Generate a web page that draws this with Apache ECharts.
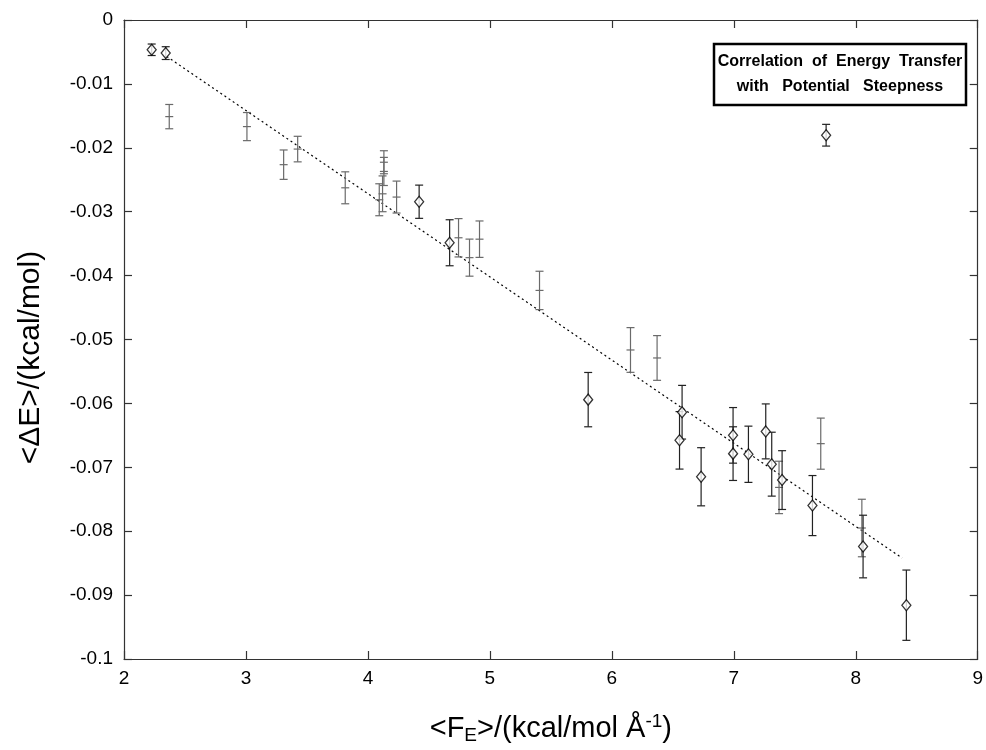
<!DOCTYPE html>
<html>
<head>
<meta charset="utf-8">
<script src="https://cdn.jsdelivr.net/npm/echarts@6/dist/echarts.min.js"></script>
<style>
html,body{margin:0;padding:0;background:#fff;}
#chart{width:986px;height:750px;}
</style>
</head>
<body>
<div id="chart"></div>
<script>
// Points drawn with diamonds (value, error bar half-length)
var diamondX   = [2.227, 2.342, 4.420, 4.670, 5.806, 6.576, 6.555, 6.732, 6.994, 6.994, 7.120, 7.262, 7.311, 7.396, 7.645, 8.060, 8.415, 7.757];
var diamondY   = [-0.00466, -0.00518, -0.02844, -0.03486, -0.05941, -0.06138, -0.06578, -0.07148, -0.06500, -0.06786, -0.06796, -0.06438, -0.06951, -0.07200, -0.07599, -0.08240, -0.09158, -0.01803];
var diamondErr = [0.0009, 0.0010, 0.0026, 0.0036, 0.00425, 0.0042, 0.0045, 0.00455, 0.00435, 0.0042, 0.0044, 0.0043, 0.0050, 0.0046, 0.0047, 0.0049, 0.0055, 0.0017];

// Points drawn as plain error bars (centre cross-bar)
var plainX   = [2.371, 3.008, 3.424, 3.309, 3.814, 4.093, 4.131, 4.131, 4.120, 4.235, 4.743, 4.833, 4.915, 5.407, 6.153, 6.371, 7.371, 7.713, 8.050];
var plainY   = [-0.01512, -0.01668, -0.02020, -0.02264, -0.02626, -0.02813, -0.02226, -0.02370, -0.02720, -0.02771, -0.03408, -0.03719, -0.03430, -0.04232, -0.05164, -0.05289, -0.07315, -0.06630, -0.07950];
var plainErr = [0.0019, 0.0022, 0.0020, 0.0023, 0.0025, 0.0025, 0.0018, 0.0022, 0.0028, 0.0025, 0.0030, 0.0029, 0.00285, 0.0030, 0.0035, 0.0035, 0.0041, 0.0040, 0.0045];

// Fitted line end points
var fitX = [2.35, 8.38];
var fitY = [-0.0057, -0.0842];

// Axis ticks
var xTicks = [2, 3, 4, 5, 6, 7, 8, 9];
var yTickLabels = ['-0.1', '-0.09', '-0.08', '-0.07', '-0.06', '-0.05', '-0.04', '-0.03', '-0.02', '-0.01', '0'];

var legendLines = ['Correlation  of  Energy  Transfer', 'with   Potential   Steepness'];

var FONT = '"Liberation Sans", Arial, Helvetica, sans-serif';

function zip(a, b, c) {
  var out = [];
  for (var i = 0; i < a.length; i++) out.push(c ? [a[i], b[i], c[i]] : [a[i], b[i]]);
  return out;
}

function errRender(withCross, color) {
  return function (params, api) {
    var x = api.value(0), y = api.value(1), e = api.value(2);
    var top = api.coord([x, y + e]);
    var bot = api.coord([x, y - e]);
    var mid = api.coord([x, y]);
    var hw = 4;
    var style = { stroke: color, lineWidth: 1.2, fill: null };
    var kids = [
      { type: 'line', shape: { x1: top[0], y1: top[1], x2: bot[0], y2: bot[1] }, style: style },
      { type: 'line', shape: { x1: top[0] - hw, y1: top[1], x2: top[0] + hw, y2: top[1] }, style: style },
      { type: 'line', shape: { x1: bot[0] - hw, y1: bot[1], x2: bot[0] + hw, y2: bot[1] }, style: style }
    ];
    if (withCross) {
      kids.push({ type: 'line', shape: { x1: mid[0] - hw, y1: mid[1], x2: mid[0] + hw, y2: mid[1] }, style: style });
    }
    return { type: 'group', children: kids };
  };
}

var chart = echarts.init(document.getElementById('chart'), null, { renderer: 'canvas' });

var axisLineStyle = { color: '#333', width: 1.2 };

var option = {
  animation: false,
  backgroundColor: '#fff',
  grid: { left: 124, right: 8, top: 20, bottom: 86.5, containLabel: false },
  xAxis: [{
    type: 'value', min: xTicks[0], max: xTicks[xTicks.length - 1], interval: 1,
    position: 'bottom',
    axisLine: { show: true, onZero: false, lineStyle: axisLineStyle },
    axisTick: { show: true, inside: true, length: 8, lineStyle: axisLineStyle },
    splitLine: { show: false },
    axisLabel: { color: '#000', fontSize: 19, fontFamily: FONT, margin: 10 },
    name: '<F{sub|E}>/(kcal/mol Å{sup|-1})',
    nameLocation: 'middle', nameGap: 53,
    nameTextStyle: {
      color: '#000', fontSize: 29, fontFamily: FONT,
      rich: {
        sub: { fontSize: 19, fontFamily: FONT, color: '#000', verticalAlign: 'bottom', padding: [14, 0, 0, 0] },
        sup: { fontSize: 19, fontFamily: FONT, color: '#000', verticalAlign: 'top', padding: [0, 0, 12, 0] }
      }
    }
  }, {
    type: 'value', min: xTicks[0], max: xTicks[xTicks.length - 1], interval: 1,
    position: 'top',
    axisLine: { show: true, onZero: false, lineStyle: axisLineStyle },
    axisTick: { show: true, inside: true, length: 8, lineStyle: axisLineStyle },
    axisLabel: { show: false }, splitLine: { show: false }
  }],
  yAxis: [{
    type: 'value', min: -0.1, max: 0, interval: 0.01,
    position: 'left',
    axisLine: { show: true, onZero: false, lineStyle: axisLineStyle },
    axisTick: { show: true, inside: true, length: 8, lineStyle: axisLineStyle },
    splitLine: { show: false },
    axisLabel: {
      color: '#000', fontSize: 19, fontFamily: FONT, margin: 11,
      formatter: function (v) { return yTickLabels[Math.round((v + 0.1) / 0.01)]; }
    },
    name: '<ΔE>/(kcal/mol)',
    nameLocation: 'middle', nameGap: 78, nameRotate: 90,
    nameTextStyle: { color: '#000', fontSize: 30, fontFamily: FONT, padding: [0, 36, 0, 0] }
  }, {
    type: 'value', min: -0.1, max: 0, interval: 0.01,
    position: 'right',
    axisLine: { show: true, onZero: false, lineStyle: axisLineStyle },
    axisTick: { show: true, inside: true, length: 8, lineStyle: axisLineStyle },
    axisLabel: { show: false }, splitLine: { show: false }
  }],
  series: [
    {
      type: 'line', data: zip(fitX, fitY), symbol: 'none',
      lineStyle: { color: '#000', width: 1.2, type: [2, 3] }, z: 2
    },
    {
      type: 'custom', data: zip(plainX, plainY, plainErr),
      renderItem: errRender(true, '#6a6a6a'), z: 3
    },
    {
      type: 'custom', data: zip(diamondX, diamondY, diamondErr),
      renderItem: errRender(false, '#222'), z: 4
    },
    {
      type: 'scatter', data: zip(diamondX, diamondY), symbol: 'diamond', symbolSize: [9, 11],
      itemStyle: { color: '#fff', borderColor: '#000', borderWidth: 1.3 }, z: 5
    }
  ],
  graphic: [{
    type: 'group', x: 714, y: 44,
    children: [
      { type: 'rect', shape: { x: 0, y: 0, width: 252, height: 61 },
        style: { fill: '#fff', stroke: '#000', lineWidth: 2.5 } },
      { type: 'text', style: { x: 126, y: 18, text: legendLines[0], textAlign: 'center', textVerticalAlign: 'middle',
        font: 'bold 16px ' + FONT, fill: '#000' } },
      { type: 'text', style: { x: 126, y: 43, text: legendLines[1], textAlign: 'center', textVerticalAlign: 'middle',
        font: 'bold 16px ' + FONT, fill: '#000' } }
    ]
  }]
};

chart.setOption(option);
</script>
</body>
</html>
